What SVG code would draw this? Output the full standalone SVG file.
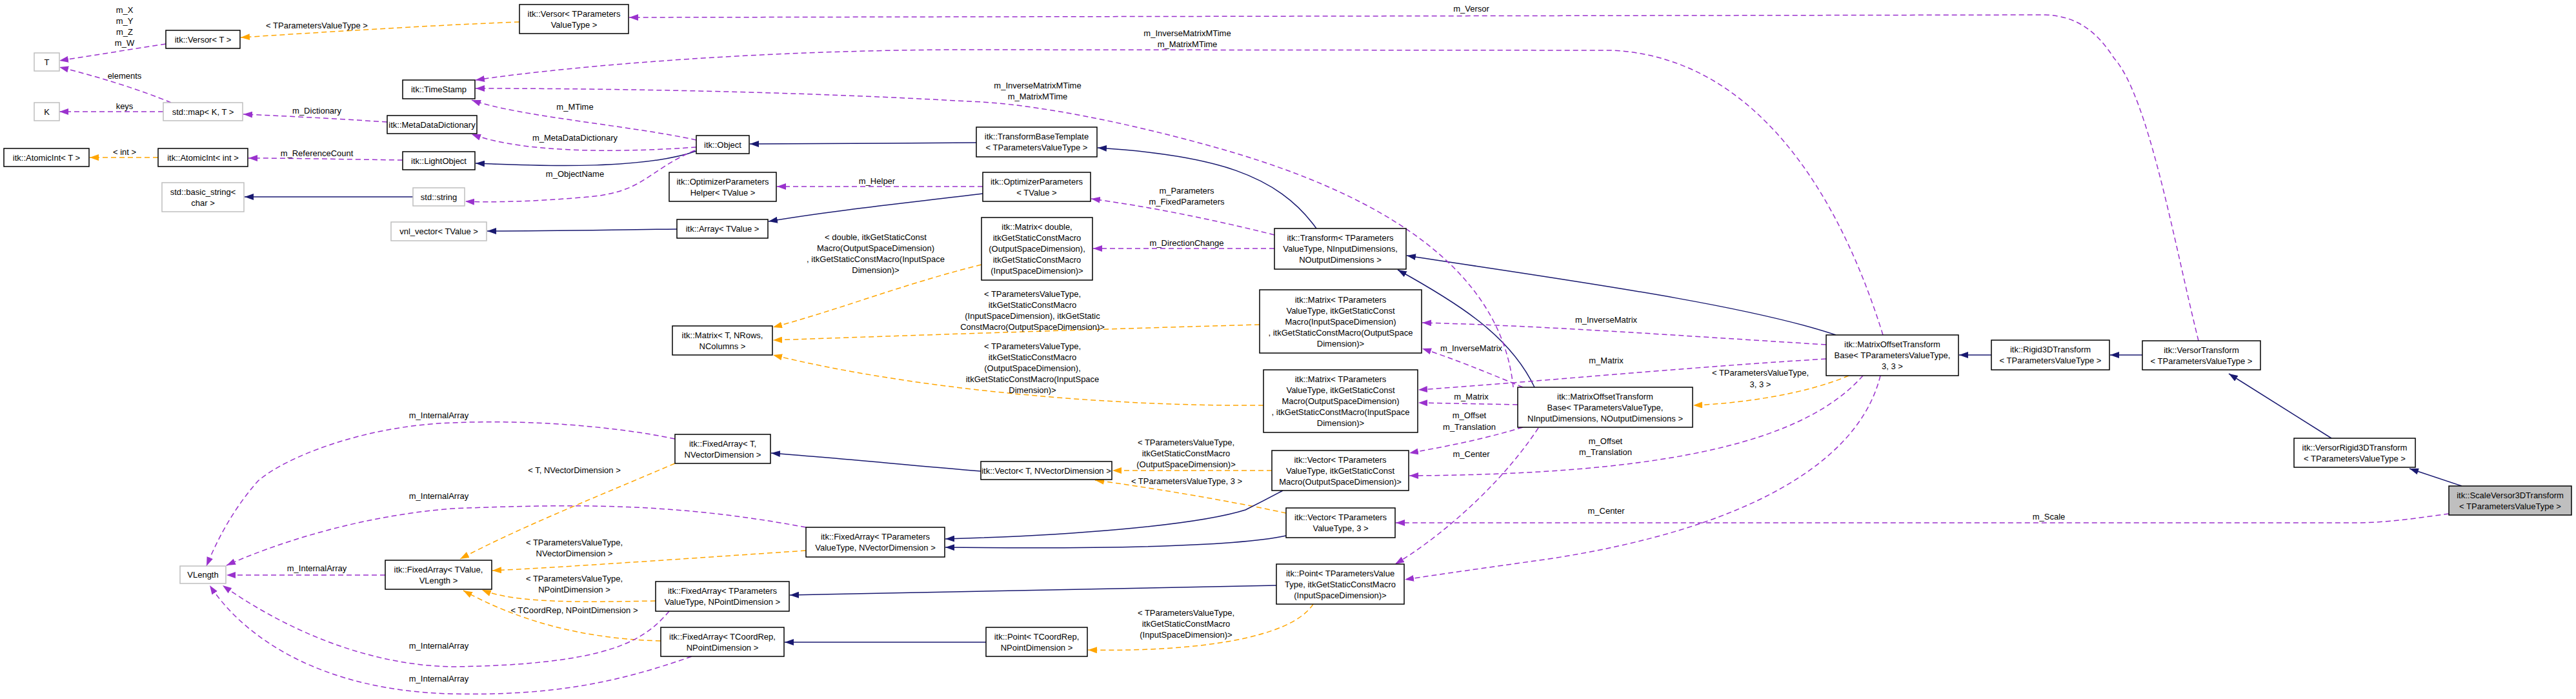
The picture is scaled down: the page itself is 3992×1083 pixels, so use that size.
<svg xmlns="http://www.w3.org/2000/svg" width="3992" height="1083" viewBox="0 0 3992 1083">
<style>
text{font-family:"Liberation Sans",Arial,sans-serif;font-size:13px;fill:#000;text-anchor:middle}
.n rect{fill:#fff;stroke:#000;stroke-width:1.5}
.u rect{fill:#fff;stroke:#bfbfbf;stroke-width:1.5}
.c{fill:none;stroke:#9a32cd;stroke-width:1.5;stroke-dasharray:8,5;marker-end:url(#mp)}
.t{fill:none;stroke:#ffa500;stroke-width:1.5;stroke-dasharray:8,5;marker-end:url(#mo)}
.i{fill:none;stroke:#191970;stroke-width:1.5;marker-end:url(#mn)}
</style>
<defs>
<marker id="mp" markerUnits="userSpaceOnUse" markerWidth="14" markerHeight="10" refX="14" refY="5" orient="auto"><path d="M0,0 L14,5 L0,10 z" fill="#9a32cd"/></marker>
<marker id="mo" markerUnits="userSpaceOnUse" markerWidth="14" markerHeight="10" refX="14" refY="5" orient="auto"><path d="M0,0 L14,5 L0,10 z" fill="#ffa500"/></marker>
<marker id="mn" markerUnits="userSpaceOnUse" markerWidth="14" markerHeight="10" refX="14" refY="5" orient="auto"><path d="M0,0 L14,5 L0,10 z" fill="#191970"/></marker>
</defs>
<rect width="3992" height="1083" fill="#fff"/>
<g id="connectors">
<path class="c" d="M257,68 L92,94"/>
<path class="c" d="M265,159 C220,140 150,118 92,104"/>
<path class="c" d="M253,173 L92,173"/>
<path class="t" d="M805,34 C650,40 500,50 373,58"/>
<path class="c" d="M600,189 C520,184 450,180 377,177"/>
<path class="t" d="M245,244 L139,244"/>
<path class="c" d="M624,248 C540,247 460,245 385,245"/>
<path class="i" d="M640,305 L379,305"/>
<path class="c" d="M1079,217 C980,195 800,180 731,155"/>
<path class="c" d="M1079,228 C980,235 820,240 731,208"/>
<path class="i" d="M1079,234 C1000,262 850,258 737,253"/>
<path class="c" d="M1077,233 C1000,265 1000,300 900,306 C830,312 760,314 721,312"/>
<path class="i" d="M1513,221 C1400,222 1250,223 1162,223"/>
<path class="c" d="M1523,289 L1204,289"/>
<path class="i" d="M1523,300 C1400,315 1300,325 1191,343"/>
<path class="i" d="M1049,355 C950,356 850,358 755,358"/>
<path class="i" d="M2040,354 C1980,270 1880,240 1701,229"/>
<path class="c" d="M1975,364 C1880,340 1780,320 1691,308"/>
<path class="c" d="M1975,385 L1694,385"/>
<path class="t" d="M1521,410 C1400,440 1300,480 1198,507"/>
<path class="t" d="M1952,503 C1700,510 1400,520 1198,527"/>
<path class="t" d="M1958,628 C1700,630 1400,600 1198,550"/>
<path class="i" d="M2378,600 C2340,520 2260,470 2166,418"/>
<path class="i" d="M2845,519 C2700,470 2400,430 2180,396"/>
<path class="c" d="M2830,534 C2600,520 2400,505 2204,500"/>
<path class="c" d="M2360,600 C2300,575 2250,555 2204,540"/>
<path class="c" d="M2830,556 C2600,570 2400,590 2198,604"/>
<path class="c" d="M2352,627 L2198,624"/>
<path class="t" d="M2865,582 C2800,610 2700,625 2624,628"/>
<path class="c" d="M2887,582 C2800,680 2600,735 2184,737"/>
<path class="c" d="M2360,662 C2300,680 2250,690 2184,702"/>
<path class="c" d="M2914,582 C2880,720 2700,820 2400,866 C2300,880 2230,890 2177,898"/>
<path class="c" d="M2384,663 C2320,760 2220,840 2162,874"/>
<path class="c" d="M3795,796 C3750,802 3700,810 3650,810 L2163,810"/>
<path class="t" d="M1971,729 L1724,729"/>
<path class="t" d="M1993,795 C1900,775 1780,755 1697,744"/>
<path class="i" d="M1988,760 C1960,775 1940,785 1930,790 C1850,815 1650,830 1465,835"/>
<path class="i" d="M1993,830 C1900,850 1650,850 1465,848"/>
<path class="i" d="M1520,730 C1400,720 1300,710 1195,702"/>
<path class="i" d="M1978,907 L1224,922"/>
<path class="i" d="M1528,995 L1216,995"/>
<path class="t" d="M2035,936 C2000,990 1850,1010 1686,1007"/>
<path class="t" d="M1046,718 C900,780 800,820 713,866"/>
<path class="t" d="M1249,853 C1000,870 850,880 763,884"/>
<path class="t" d="M1016,931 C900,933 800,935 747,914"/>
<path class="t" d="M1024,993 C900,990 800,960 718,915"/>
<path class="c" d="M1046,680 C950,660 820,650 700,655 C560,660 440,710 400,745 C360,790 335,840 320,877"/>
<path class="c" d="M1249,817 C1050,780 900,780 700,788 C550,800 420,845 351,876"/>
<path class="c" d="M597,891 L351,891"/>
<path class="c" d="M1037,947 C1000,990 950,1030 700,1033 C550,1030 420,960 345,907"/>
<path class="c" d="M1072,1017 C950,1060 850,1078 700,1075 C500,1070 380,990 325,907"/>
<path class="c" d="M2918,519 C2850,300 2720,90 2500,78 L1500,77 C1200,77 900,100 737,124"/>
<path class="c" d="M2345,600 C2330,450 2200,320 1900,233 C1750,190 1600,160 1500,157 C1200,140 900,137 737,137"/>
<path class="c" d="M3407,528 C3370,380 3330,150 3276,90 C3250,50 3220,25 3170,23 L975,27"/>
<path class="i" d="M3320,550 L3270,550"/>
<path class="i" d="M3086,550 L3036,550"/>
<path class="i" d="M3613,679 L3454,579"/>
<path class="i" d="M3815,753 L3734,726"/>
</g>
<g id="labels">
<text x="193" y="19.5">m_X</text><text x="193" y="36.5">m_Y</text><text x="193" y="53.5">m_Z</text><text x="193" y="70.5">m_W</text>
<text x="491" y="43.5">&lt; TParametersValueType &gt;</text>
<text x="193" y="121.5">elements</text>
<text x="193" y="168.5">keys</text>
<text x="491" y="175.5">m_Dictionary</text>
<text x="193" y="239.5">&lt; int &gt;</text>
<text x="491" y="241.5">m_ReferenceCount</text>
<text x="891" y="169.5">m_MTime</text>
<text x="891" y="217.5">m_MetaDataDictionary</text>
<text x="891" y="273.5">m_ObjectName</text>
<text x="1359" y="284.5">m_Helper</text>
<text x="1357" y="371.5">&lt; double, itkGetStaticConst</text><text x="1357" y="388.5">Macro(OutputSpaceDimension)</text><text x="1357" y="405.5">, itkGetStaticConstMacro(InputSpace</text><text x="1357" y="422.5">Dimension)&gt;</text>
<text x="2280" y="17.5">m_Versor</text>
<text x="1840" y="55.5">m_InverseMatrixMTime</text><text x="1840" y="72.5">m_MatrixMTime</text>
<text x="1608" y="136.5">m_InverseMatrixMTime</text><text x="1608" y="153.5">m_MatrixMTime</text>
<text x="1839" y="299.5">m_Parameters</text><text x="1839" y="316.5">m_FixedParameters</text>
<text x="1839" y="380.5">m_DirectionChange</text>
<text x="1600" y="459.5">&lt; TParametersValueType,</text><text x="1600" y="476.5">itkGetStaticConstMacro</text><text x="1600" y="493.5">(InputSpaceDimension), itkGetStatic</text><text x="1600" y="510.5">ConstMacro(OutputSpaceDimension)&gt;</text>
<text x="1600" y="540.5">&lt; TParametersValueType,</text><text x="1600" y="557.5">itkGetStaticConstMacro</text><text x="1600" y="574.5">(OutputSpaceDimension),</text><text x="1600" y="591.5">itkGetStaticConstMacro(InputSpace</text><text x="1600" y="608.5">Dimension)&gt;</text>
<text x="2280" y="543.5">m_InverseMatrix</text>
<text x="2280" y="618.5">m_Matrix</text>
<text x="2277" y="647.5">m_Offset</text><text x="2277" y="665.5">m_Translation</text>
<text x="2280" y="707.5">m_Center</text>
<text x="1838" y="689.5">&lt; TParametersValueType,</text><text x="1838" y="706.5">itkGetStaticConstMacro</text><text x="1838" y="723.5">(OutputSpaceDimension)&gt;</text>
<text x="1839" y="749.5">&lt; TParametersValueType, 3 &gt;</text>
<text x="1838" y="953.5">&lt; TParametersValueType,</text><text x="1838" y="970.5">itkGetStaticConstMacro</text><text x="1838" y="987.5">(InputSpaceDimension)&gt;</text>
<text x="2489" y="499.5">m_InverseMatrix</text>
<text x="2489" y="562.5">m_Matrix</text>
<text x="2728" y="581.5">&lt; TParametersValueType,</text><text x="2728" y="599.5">3, 3 &gt;</text>
<text x="2488" y="687.5">m_Offset</text><text x="2488" y="704.5">m_Translation</text>
<text x="2489" y="795.5">m_Center</text>
<text x="3175" y="804.5">m_Scale</text>
<text x="890" y="732.5">&lt; T, NVectorDimension &gt;</text>
<text x="890" y="844.5">&lt; TParametersValueType,</text><text x="890" y="861.5">NVectorDimension &gt;</text>
<text x="890" y="900.5">&lt; TParametersValueType,</text><text x="890" y="917.5">NPointDimension &gt;</text>
<text x="890" y="949.5">&lt; TCoordRep, NPointDimension &gt;</text>
<text x="680" y="647.5">m_InternalArray</text>
<text x="680" y="772.5">m_InternalArray</text>
<text x="491" y="884.5">m_InternalArray</text>
<text x="680" y="1004.5">m_InternalArray</text>
<text x="680" y="1055.5">m_InternalArray</text>
</g>
<g id="n1" class="u"><rect x="53" y="82" width="39" height="28"/><text x="72.5" y="100.5">T</text></g>
<g id="n2" class="u"><rect x="53" y="159" width="39" height="28"/><text x="72.5" y="177.5">K</text></g>
<g id="n3" class="n"><rect x="6" y="230" width="132" height="28"/><text x="72" y="248.5">itk::AtomicInt&lt; T &gt;</text></g>
<g id="n4" class="n"><rect x="257" y="47" width="115" height="28"/><text x="314.5" y="65.5">itk::Versor&lt; T &gt;</text></g>
<g id="n5" class="u"><rect x="253" y="159" width="123" height="28"/><text x="314.5" y="177.5">std::map&lt; K, T &gt;</text></g>
<g id="n6" class="n"><rect x="245" y="230" width="139" height="28"/><text x="314.5" y="248.5">itk::AtomicInt&lt; int &gt;</text></g>
<g id="n7" class="u"><rect x="251" y="283" width="127" height="45"/><text x="314.5" y="301.5">std::basic_string&lt;</text><text x="314.5" y="318.5">char &gt;</text></g>
<g id="n8" class="n"><rect x="624" y="124" width="112" height="29"/><text x="680" y="143">itk::TimeStamp</text></g>
<g id="n9" class="n"><rect x="600" y="179" width="139" height="28"/><text x="669.5" y="197.5">itk::MetaDataDictionary</text></g>
<g id="n10" class="n"><rect x="624" y="235" width="112" height="28"/><text x="680" y="253.5">itk::LightObject</text></g>
<g id="n11" class="u"><rect x="640" y="291" width="80" height="28"/><text x="680" y="309.5">std::string</text></g>
<g id="n12" class="u"><rect x="606" y="344" width="148" height="29"/><text x="680" y="363">vnl_vector&lt; TValue &gt;</text></g>
<g id="n13" class="n"><rect x="805" y="7" width="169" height="45"/><text x="889.5" y="25.5">itk::Versor&lt; TParameters</text><text x="889.5" y="42.5">ValueType &gt;</text></g>
<g id="n14" class="n"><rect x="1079" y="210" width="82" height="28"/><text x="1120" y="228.5">itk::Object</text></g>
<g id="n15" class="n"><rect x="1037" y="267" width="166" height="45"/><text x="1120" y="285.5">itk::OptimizerParameters</text><text x="1120" y="302.5">Helper&lt; TValue &gt;</text></g>
<g id="n16" class="n"><rect x="1049" y="340" width="141" height="29"/><text x="1119.5" y="359">itk::Array&lt; TValue &gt;</text></g>
<g id="n17" class="n"><rect x="1513" y="197" width="187" height="46"/><text x="1606.5" y="216">itk::TransformBaseTemplate</text><text x="1606.5" y="233">&lt; TParametersValueType &gt;</text></g>
<g id="n18" class="n"><rect x="1523" y="267" width="167" height="45"/><text x="1606.5" y="285.5">itk::OptimizerParameters</text><text x="1606.5" y="302.5">&lt; TValue &gt;</text></g>
<g id="n19" class="n"><rect x="1521" y="337" width="172" height="97"/><text x="1607" y="356">itk::Matrix&lt; double,</text><text x="1607" y="373">itkGetStaticConstMacro</text><text x="1607" y="390">(OutputSpaceDimension),</text><text x="1607" y="407">itkGetStaticConstMacro</text><text x="1607" y="424">(InputSpaceDimension)&gt;</text></g>
<g id="n20" class="n"><rect x="1975" y="354" width="204" height="63"/><text x="2077" y="373">itk::Transform&lt; TParameters</text><text x="2077" y="390">ValueType, NInputDimensions,</text><text x="2077" y="407">NOutputDimensions &gt;</text></g>
<g id="n21" class="n"><rect x="1952" y="449" width="251" height="98"/><text x="2077.5" y="468.5">itk::Matrix&lt; TParameters</text><text x="2077.5" y="485.5">ValueType, itkGetStaticConst</text><text x="2077.5" y="502.5">Macro(InputSpaceDimension)</text><text x="2077.5" y="519.5">, itkGetStaticConstMacro(OutputSpace</text><text x="2077.5" y="536.5">Dimension)&gt;</text></g>
<g id="n22" class="n"><rect x="1958" y="573" width="239" height="97"/><text x="2077.5" y="592">itk::Matrix&lt; TParameters</text><text x="2077.5" y="609">ValueType, itkGetStaticConst</text><text x="2077.5" y="626">Macro(OutputSpaceDimension)</text><text x="2077.5" y="643">, itkGetStaticConstMacro(InputSpace</text><text x="2077.5" y="660">Dimension)&gt;</text></g>
<g id="n23" class="n"><rect x="2352" y="600" width="271" height="62"/><text x="2487.5" y="618.5">itk::MatrixOffsetTransform</text><text x="2487.5" y="635.5">Base&lt; TParametersValueType,</text><text x="2487.5" y="652.5">NInputDimensions, NOutputDimensions &gt;</text></g>
<g id="n24" class="n"><rect x="1971" y="698" width="212" height="62"/><text x="2077" y="716.5">itk::Vector&lt; TParameters</text><text x="2077" y="733.5">ValueType, itkGetStaticConst</text><text x="2077" y="750.5">Macro(OutputSpaceDimension)&gt;</text></g>
<g id="n25" class="n"><rect x="1520" y="715" width="203" height="28"/><text x="1621.5" y="733.5">itk::Vector&lt; T, NVectorDimension &gt;</text></g>
<g id="n26" class="n"><rect x="1993" y="787" width="169" height="46"/><text x="2077.5" y="806">itk::Vector&lt; TParameters</text><text x="2077.5" y="823">ValueType, 3 &gt;</text></g>
<g id="n27" class="n"><rect x="1978" y="874" width="198" height="62"/><text x="2077" y="892.5">itk::Point&lt; TParametersValue</text><text x="2077" y="909.5">Type, itkGetStaticConstMacro</text><text x="2077" y="926.5">(InputSpaceDimension)&gt;</text></g>
<g id="n28" class="n"><rect x="1528" y="972" width="157" height="45"/><text x="1606.5" y="990.5">itk::Point&lt; TCoordRep,</text><text x="1606.5" y="1007.5">NPointDimension &gt;</text></g>
<g id="n29" class="n"><rect x="2830" y="519" width="205" height="63"/><text x="2932.5" y="538">itk::MatrixOffsetTransform</text><text x="2932.5" y="555">Base&lt; TParametersValueType,</text><text x="2932.5" y="572">3, 3 &gt;</text></g>
<g id="n30" class="n"><rect x="3086" y="527" width="183" height="46"/><text x="3177.5" y="546">itk::Rigid3DTransform</text><text x="3177.5" y="563">&lt; TParametersValueType &gt;</text></g>
<g id="n31" class="n"><rect x="3320" y="528" width="183" height="45"/><text x="3411.5" y="546.5">itk::VersorTransform</text><text x="3411.5" y="563.5">&lt; TParametersValueType &gt;</text></g>
<g id="n32" class="n"><rect x="3555" y="679" width="188" height="45"/><text x="3649" y="697.5">itk::VersorRigid3DTransform</text><text x="3649" y="714.5">&lt; TParametersValueType &gt;</text></g>
<g id="n33" class="n"><rect x="3795" y="753" width="190" height="45" style="fill:#bfbfbf"/><text x="3890" y="771.5">itk::ScaleVersor3DTransform</text><text x="3890" y="788.5">&lt; TParametersValueType &gt;</text></g>
<g id="n34" class="n"><rect x="1042" y="505" width="155" height="45"/><text x="1119.5" y="523.5">itk::Matrix&lt; T, NRows,</text><text x="1119.5" y="540.5">NColumns &gt;</text></g>
<g id="n35" class="n"><rect x="1046" y="673" width="148" height="45"/><text x="1120" y="691.5">itk::FixedArray&lt; T,</text><text x="1120" y="708.5">NVectorDimension &gt;</text></g>
<g id="n36" class="n"><rect x="1249" y="817" width="215" height="46"/><text x="1356.5" y="836">itk::FixedArray&lt; TParameters</text><text x="1356.5" y="853">ValueType, NVectorDimension &gt;</text></g>
<g id="n37" class="n"><rect x="1016" y="901" width="207" height="46"/><text x="1119.5" y="920">itk::FixedArray&lt; TParameters</text><text x="1119.5" y="937">ValueType, NPointDimension &gt;</text></g>
<g id="n38" class="n"><rect x="1024" y="972" width="191" height="45"/><text x="1119.5" y="990.5">itk::FixedArray&lt; TCoordRep,</text><text x="1119.5" y="1007.5">NPointDimension &gt;</text></g>
<g id="n39" class="n"><rect x="597" y="868" width="165" height="45"/><text x="679.5" y="886.5">itk::FixedArray&lt; TValue,</text><text x="679.5" y="903.5">VLength &gt;</text></g>
<g id="n40" class="u"><rect x="279" y="877" width="71" height="27"/><text x="314.5" y="895">VLength</text></g>
</svg>
